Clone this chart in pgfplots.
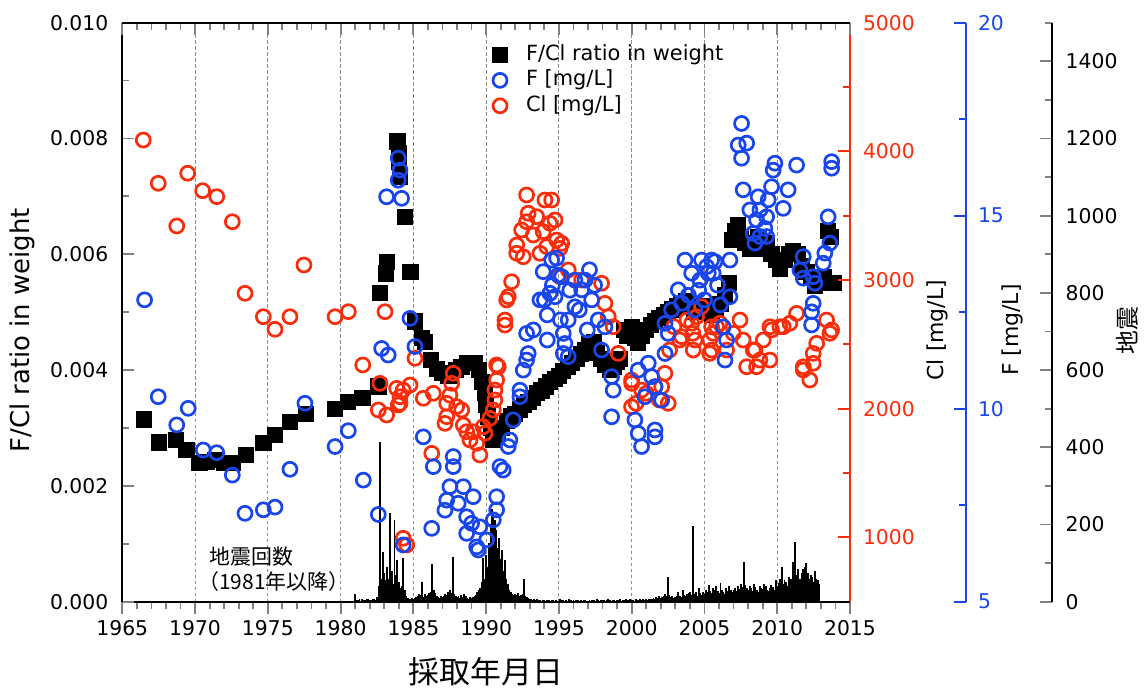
\documentclass[border=0pt]{standalone}
\usepackage{fontspec}
\setmainfont{DejaVu Sans}
\newfontfamily\jp{Noto Sans CJK JP}
\usepackage{pgfplots}
\pgfplotsset{compat=1.18}
\definecolor{clred}{RGB}{250,45,10}
\definecolor{fblue}{RGB}{25,70,235}
\definecolor{gridgray}{RGB}{140,140,140}

\pgfplotsset{
  frame/.style={scale only axis, width=363.85bp, height=289.5bp,
    xmin=1965, xmax=2015, at={(0,0)}, anchor=south west,
    /pgf/number format/1000 sep={}, /pgf/number format/assume math mode=true,
    tick label style={font=\fontsize{10.2}{12}\selectfont},
    major tick length=6bp, minor tick length=3.5bp,
    tick style={line width=0.9bp},
    axis line style={line width=1bp},
    label style={font=\fontsize{11}{13}\selectfont}},
  years/.style={xtick={1965,1970,1975,1980,1985,1990,1995,2000,2005,2010,2015}, minor x tick num=4},
}

\begin{document}
\begin{tikzpicture}
% bottom x axis, grid
\begin{axis}[frame, years, axis x line*=bottom, hide y axis, ymin=0, ymax=1,
  tick align=outside,
  xmajorgrids, major grid style={gridgray, dash pattern=on 1.6bp off 1.4bp, line width=0.5bp},
  xlabel={\jp 採取年月日},
  xlabel style={font=\fontsize{15.5}{18}\selectfont, at={(axis description cs:0.5,-0.1214)}, anchor=center}]
\addplot[draw=none] coordinates {(1965,0)};
\node[anchor=west, inner sep=0, font=\jp\fontsize{10.5}{12}\selectfont] at (axis description cs:0.119,0.0772) {地震回数};
\node[anchor=west, inner sep=0, font=\jp\fontsize{10.5}{12}\selectfont] at (axis description cs:0.104,0.0356) {（1981年以降）};
\end{axis}

% earthquake counts
\begin{axis}[frame, hide axis, ymin=0, ymax=1500]
\addplot[ycomb, black, line width=0.95bp, mark=none] table {
x y
1981.0 20
1981.1 5
1981.2 4
1981.3 6
1981.4 3
1981.5 8
1981.6 5
1981.7 4
1981.8 6
1981.9 7
1982.0 5
1982.1 4
1982.2 6
1982.3 8
1982.4 5
1982.5 12
1982.6 40
1982.7 414
1982.8 60
1982.9 130
1983.0 75
1983.1 55
1983.2 90
1983.3 60
1983.4 230
1983.5 80
1983.6 45
1983.7 212
1983.8 70
1983.9 108
1984.0 50
1984.1 35
1984.2 40
1984.3 113
1984.4 30
1984.5 15
1984.6 10
1984.7 8
1984.8 6
1984.9 10
1985.0 8
1985.1 10
1985.2 12
1985.3 15
1985.4 20
1985.5 18
1985.6 50
1985.7 12
1985.8 20
1985.9 15
1986.0 18
1986.1 22
1986.2 25
1986.3 98
1986.4 30
1986.5 22
1986.6 15
1986.7 12
1986.8 10
1986.9 14
1987.0 12
1987.1 15
1987.2 20
1987.3 18
1987.4 25
1987.5 30
1987.6 22
1987.7 117
1987.8 20
1987.9 15
1988.0 12
1988.1 15
1988.2 10
1988.3 18
1988.4 12
1988.5 20
1988.6 15
1988.7 10
1988.8 8
1988.9 12
1989.0 10
1989.1 12
1989.2 15
1989.3 18
1989.4 25
1989.5 30
1989.6 35
1989.7 50
1989.8 112
1989.9 60
1990.0 120
1990.1 90
1990.2 151
1990.3 200
1990.4 241
1990.5 228
1990.6 212
1990.7 186
1990.8 140
1990.9 164
1991.0 110
1991.1 134
1991.2 80
1991.3 109
1991.4 60
1991.5 47
1991.6 30
1991.7 25
1991.8 20
1991.9 18
1992.0 20
1992.1 18
1992.2 22
1992.3 15
1992.4 18
1992.5 20
1992.6 60
1992.7 15
1992.8 12
1992.9 10
1993.0 8
1993.1 6
1993.2 5
1993.3 7
1993.4 4
1993.5 6
1993.6 5
1993.7 4
1993.8 3
1993.9 5
1994.0 4
1994.1 3
1994.2 5
1994.3 4
1994.4 3
1994.5 4
1994.6 5
1994.7 3
1994.8 4
1994.9 3
1995.0 3
1995.1 8
1995.2 4
1995.3 5
1995.4 3
1995.5 4
1995.6 3
1995.7 6
1995.8 4
1995.9 3
1996.0 4
1996.1 3
1996.2 5
1996.3 4
1996.4 3
1996.5 4
1996.6 3
1996.7 5
1996.8 4
1996.9 3
1997.0 3
1997.1 4
1997.2 3
1997.3 5
1997.4 4
1997.5 3
1997.6 6
1997.7 4
1997.8 3
1997.9 4
1998.0 4
1998.1 5
1998.2 3
1998.3 4
1998.4 6
1998.5 4
1998.6 3
1998.7 5
1998.8 4
1998.9 3
1999.0 5
1999.1 4
1999.2 6
1999.3 3
1999.4 5
1999.5 4
1999.6 7
1999.7 5
1999.8 4
1999.9 6
2000.0 4
2000.1 5
2000.2 3
2000.3 6
2000.4 4
2000.5 5
2000.6 8
2000.7 4
2000.8 6
2000.9 5
2001.0 6
2001.1 5
2001.2 8
2001.3 6
2001.4 7
2001.5 10
2001.6 8
2001.7 12
2001.8 9
2001.9 15
2002.0 10
2002.1 12
2002.2 15
2002.3 20
2002.4 14
2002.5 65
2002.6 18
2002.7 12
2002.8 15
2002.9 10
2003.0 12
2003.1 15
2003.2 25
2003.3 14
2003.4 12
2003.5 30
2003.6 18
2003.7 15
2003.8 20
2003.9 22
2004.0 25
2004.1 18
2004.2 196
2004.3 20
2004.4 25
2004.5 15
2004.6 35
2004.7 22
2004.8 18
2004.9 25
2005.0 20
2005.1 30
2005.2 25
2005.3 43
2005.4 28
2005.5 22
2005.6 35
2005.7 30
2005.8 40
2005.9 28
2006.0 22
2006.1 49
2006.2 30
2006.3 25
2006.4 20
2006.5 35
2006.6 28
2006.7 40
2006.8 30
2006.9 25
2007.0 30
2007.1 35
2007.2 28
2007.3 40
2007.4 32
2007.5 45
2007.6 38
2007.7 104
2007.8 42
2007.9 35
2008.0 30
2008.1 40
2008.2 35
2008.3 28
2008.4 45
2008.5 38
2008.6 30
2008.7 25
2008.8 40
2008.9 35
2009.0 32
2009.1 45
2009.2 40
2009.3 30
2009.4 28
2009.5 35
2009.6 42
2009.7 38
2009.8 30
2009.9 55
2010.0 40
2010.1 48
2010.2 60
2010.3 89
2010.4 45
2010.5 55
2010.6 50
2010.7 40
2010.8 65
2010.9 60
2011.0 58
2011.1 104
2011.2 154
2011.3 70
2011.4 85
2011.5 58
2011.6 60
2011.7 75
2011.8 86
2011.9 90
2012.0 101
2012.1 75
2012.2 60
2012.3 70
2012.4 65
2012.5 52
2012.6 80
2012.7 60
2012.8 55
2012.9 45
};
\end{axis}

% F/Cl ratio, left axis
\begin{axis}[frame, axis y line*=left, hide x axis, ymin=0, ymax=0.010,
  ytick={0,0.002,0.004,0.006,0.008,0.010},
  yticklabels={0.000,0.002,0.004,0.006,0.008,0.010}, scaled y ticks=false,
  minor y tick num=1, tick align=inside,
  yticklabel style={xshift=-3.5bp},
  ylabel={F/Cl ratio in weight},
  ylabel style={font=\fontsize{13}{15}\selectfont, at={(axis description cs:-0.138,0.469)}, anchor=center},
  legend style={at={(axis description cs:0.5086,0.9661)}, anchor=north west, draw=none, fill=none,
    inner sep=0pt, outer sep=0pt, row sep=0.25bp, legend cell align=left,
    font=\fontsize{10.5}{12.5}\selectfont,
    nodes={inner sep=1bp, text height=8bp, text depth=2.5bp},
    /tikz/every odd column/.append style={column sep=8.2bp}},
  legend image code/.code={\draw[#1] plot coordinates {(0cm,0cm)};}]
\addplot[only marks, mark=square*, black, mark size=3.8bp] table {
x y
1966.5 0.00315
1967.5 0.00275
1968.7 0.00280
1969.4 0.00262
1970.3 0.00240
1970.8 0.00242
1971.4 0.00245
1972.0 0.00240
1972.6 0.00240
1973.5 0.00253
1974.7 0.00274
1975.5 0.00288
1976.5 0.00311
1977.6 0.00325
1979.6 0.00333
1980.5 0.00345
1981.5 0.00352
1982.6 0.00372
1982.7 0.00533
1983.1 0.00567
1983.2 0.00587
1983.9 0.00795
1984.0 0.00775
1984.0 0.00760
1984.1 0.00734
1984.4 0.00665
1984.8 0.00570
1985.1 0.00484
1985.6 0.00455
1985.8 0.00449
1986.2 0.00418
1986.6 0.00402
1987.0 0.00395
1987.4 0.00390
1987.9 0.00400
1988.3 0.00405
1988.7 0.00412
1989.2 0.00412
1989.5 0.00400
1989.7 0.00380
1989.9 0.00360
1990.0 0.00340
1990.1 0.00320
1990.3 0.00300
1990.5 0.00280
1990.8 0.00290
1991.1 0.00300
1991.4 0.00312
1991.7 0.00320
1992.0 0.00325
1992.3 0.00332
1992.6 0.00340
1992.9 0.00345
1993.2 0.00352
1993.5 0.00360
1993.8 0.00365
1994.1 0.00372
1994.4 0.00380
1994.7 0.00385
1995.0 0.00390
1995.3 0.00398
1995.6 0.00405
1995.9 0.00412
1996.2 0.00420
1996.5 0.00428
1996.8 0.00435
1997.1 0.00445
1997.4 0.00448
1997.6 0.00430
1997.9 0.00420
1998.2 0.00410
1998.5 0.00400
1998.8 0.00405
1999.0 0.00415
1999.2 0.00420
1999.5 0.00470
1999.7 0.00460
2000.0 0.00475
2000.2 0.00455
2000.4 0.00448
2000.7 0.00460
2001.0 0.00470
2001.3 0.00478
2001.6 0.00485
2001.9 0.00490
2002.2 0.00495
2002.5 0.00500
2002.8 0.00505
2003.1 0.00510
2003.4 0.00515
2003.7 0.00520
2004.0 0.00510
2004.3 0.00500
2004.6 0.00505
2004.9 0.00510
2005.2 0.00500
2005.5 0.00495
2005.8 0.00505
2006.1 0.00515
2006.4 0.00530
2006.7 0.00550
2006.9 0.00625
2007.1 0.00640
2007.3 0.00650
2007.5 0.00630
2007.8 0.00620
2008.1 0.00610
2008.4 0.00620
2008.7 0.00630
2009.0 0.00610
2009.3 0.00620
2009.6 0.00600
2009.9 0.00590
2010.2 0.00575
2010.5 0.00590
2010.8 0.00600
2011.1 0.00605
2011.4 0.00600
2011.7 0.00580
2012.0 0.00570
2012.3 0.00560
2012.6 0.00545
2012.9 0.00550
2013.2 0.00560
2013.5 0.00640
2013.7 0.00630
2013.9 0.00550
};
\addlegendentry{F/Cl ratio in weight}
\addlegendimage{only marks, mark=o, fblue, mark size=3.5bp, line width=1.35bp}
\addlegendentry{F [mg/L]}
\addlegendimage{only marks, mark=o, clred, mark size=3.5bp, line width=1.35bp}
\addlegendentry{Cl [mg/L]}
\end{axis}

% Cl, right axis
\begin{axis}[frame, axis y line*=right, hide x axis, ymin=500, ymax=5000,
  ytick={1000,2000,3000,4000,5000}, minor y tick num=1, tick align=inside,
  axis line style={clred}, tick style={clred},
  yticklabel style={clred, xshift=3bp},
  ylabel={Cl [mg/L]},
  ylabel style={at={(axis description cs:1.1195,0.469)}, anchor=center}]
\addplot[only marks, mark=o, clred, mark size=3.5bp, line width=1.35bp] table {
x y
1966.44 4088
1967.47 3752
1968.74 3420
1969.49 3830
1970.52 3694
1971.49 3648
1972.56 3453
1973.43 2897
1974.69 2715
1975.49 2617
1976.52 2715
1977.48 3117
1979.62 2715
1980.53 2754
1981.52 2340
1983.05 2754
1982.59 1990
1983.16 1951
1982.70 2197
1984.30 993
1984.54 941
1983.85 2158
1984.08 2093
1983.96 2029
1984.77 2184
1984.30 2145
1984.08 2042
1985.11 2392
1985.68 2081
1986.37 2120
1986.26 1653
1987.74 2275
1987.63 2197
1987.51 2106
1987.29 2042
1987.29 1938
1987.17 1886
1987.97 2016
1988.32 1990
1988.43 1873
1988.66 1821
1988.89 1757
1989.35 1731
1989.57 1640
1989.11 1821
1989.80 1860
1989.92 1809
1990.26 1925
1990.49 1990
1990.60 2068
1990.60 2145
1990.72 2223
1990.83 2326
1990.72 2340
1991.29 2689
1991.29 2650
1991.41 2845
1991.52 2871
1991.75 2987
1992.10 3272
1992.10 3208
1992.55 3181
1992.44 3389
1992.78 3453
1992.78 3661
1992.89 3519
1993.24 3350
1993.47 3492
1993.70 3208
1993.92 3376
1994.04 3622
1994.50 3622
1994.16 3259
1994.38 3441
1994.84 3311
1995.07 3246
1995.07 3026
1994.73 3467
1995.19 3285
1995.64 3078
1996.56 3000
1997.93 2975
1998.16 2819
1998.39 2715
1998.73 2637
1999.08 2430
1999.99 2223
1999.99 2015
2000.00 2197
2000.30 2042
2000.68 2145
2001.00 2120
2001.60 2171
2001.90 2068
2002.06 2171
2002.51 2042
2002.28 2275
2002.60 2456
2002.90 2637
2003.30 2534
2003.80 2689
2004.20 2586
2004.12 2664
2004.35 2534
2005.49 2637
2005.49 2456
2003.43 2560
2004.80 2793
2004.23 2456
2005.60 2586
2007.44 2689
2007.66 2534
2008.35 2456
2008.58 2326
2009.04 2534
2009.50 2637
2009.50 2378
2010.18 2637
2010.87 2664
2011.33 2741
2011.79 2326
2012.24 2223
2012.47 2430
2012.71 2508
2013.39 2689
2013.62 2586
2006.52 2456
2006.06 2664
2004.46 2715
2010.41 2637
2009.61 2612
2008.47 2456
2008.81 2378
2007.90 2326
2006.98 2586
2013.74 2612
2012.47 2353
2011.79 2301
2005.36 2534
2005.83 2637
2005.36 2430
};
\end{axis}

% F data
\begin{axis}[frame, hide axis, ymin=5, ymax=20]
\addplot[only marks, mark=o, fblue, mark size=3.5bp, line width=1.35bp] table {
x y
1966.53 12.82
1967.47 10.31
1968.74 9.58
1969.53 10.01
1970.56 8.93
1971.49 8.86
1972.56 8.28
1973.43 7.29
1974.69 7.38
1975.49 7.45
1976.52 8.43
1977.55 10.14
1979.62 9.02
1980.53 9.43
1981.56 8.15
1982.59 7.26
1982.82 11.56
1983.27 11.39
1983.16 15.49
1983.96 16.49
1984.08 16.18
1983.96 15.92
1984.19 15.45
1984.30 6.47
1984.77 12.34
1985.11 11.61
1985.68 9.27
1986.26 6.90
1986.37 8.50
1987.74 8.76
1987.74 8.50
1987.51 7.98
1987.29 7.63
1987.17 7.37
1988.43 7.98
1988.08 7.55
1988.66 7.20
1989.11 7.72
1988.66 6.77
1989.00 7.03
1989.57 6.94
1989.35 6.42
1989.46 6.34
1990.03 6.60
1990.72 7.72
1990.72 7.38
1990.49 7.12
1990.95 8.50
1991.17 8.41
1991.63 9.19
1991.52 9.02
1991.86 9.71
1992.32 10.31
1992.32 10.48
1992.55 11.00
1992.78 11.26
1992.89 11.43
1993.24 12.04
1992.78 11.95
1993.70 12.82
1994.38 12.99
1993.92 13.55
1994.50 13.85
1994.95 13.46
1995.30 11.95
1995.30 11.43
1994.84 13.90
1995.19 13.42
1994.73 12.90
1994.00 12.82
1994.20 12.43
1994.55 13.20
1995.75 13.07
1996.10 13.33
1997.10 13.60
1997.45 13.20
1996.40 12.56
1996.95 12.04
1995.10 12.30
1994.20 11.78
1996.79 13.33
1996.56 13.08
1997.25 12.82
1996.10 12.64
1995.64 12.30
1995.41 11.69
1995.64 11.35
1997.70 12.30
1998.16 12.12
1997.93 11.52
1998.62 10.83
1998.73 10.48
1998.62 9.79
2000.45 11.00
2001.14 11.18
2001.37 10.83
2000.91 10.31
2001.60 10.57
2002.06 10.22
2000.22 9.71
2000.45 9.36
2000.68 9.02
2001.60 9.45
2001.60 9.27
2002.29 11.43
2002.51 11.95
2002.29 12.21
2002.74 12.56
2003.43 12.73
2003.20 13.08
2003.66 13.85
2004.12 13.51
2004.80 13.85
2005.49 13.85
2004.35 12.56
2005.26 13.51
2005.72 13.81
2006.75 13.85
2005.15 13.68
2005.60 13.51
2004.69 13.33
2003.90 12.94
2004.60 13.07
2005.00 12.82
2005.90 13.20
2006.10 12.69
2006.75 12.90
2006.29 12.12
2006.52 11.78
2006.41 11.26
2007.55 17.39
2007.32 16.83
2007.90 16.88
2007.55 16.49
2007.66 15.67
2009.84 16.36
2009.72 16.18
2011.33 16.31
2009.61 15.75
2010.75 15.67
2008.69 15.49
2009.38 15.41
2010.41 15.19
2008.12 15.15
2008.81 15.15
2009.27 14.97
2008.58 14.89
2009.15 14.67
2008.35 14.54
2008.81 14.46
2008.47 14.29
2009.27 14.46
2013.74 16.40
2013.74 16.23
2013.50 14.97
2013.62 14.29
2013.27 14.03
2013.16 13.77
2011.79 13.94
2011.56 13.59
2011.79 13.38
2012.47 13.42
2012.59 13.25
2012.47 12.73
2012.36 12.51
2012.36 12.17
};
\end{axis}

% top x axis
\begin{axis}[frame, years, axis x line*=top, hide y axis, ymin=0, ymax=1,
  tick align=inside, xticklabels={}]
\addplot[draw=none] coordinates {(1965,0)};
\end{axis}

% F scale
\begin{axis}[frame, at={(58bp,0)}, axis y line*=right, hide x axis, ymin=5, ymax=20,
  ytick={5,10,15,20}, minor y tick num=1, tick align=inside,
  axis line style={fblue}, tick style={fblue},
  yticklabel style={fblue, xshift=2.5bp},
  ylabel={F [mg/L]},
  ylabel style={at={(axis description cs:1.0632,0.469)}, anchor=center}]
\addplot[draw=none] coordinates {(1990,10)};
\end{axis}

% earthquake scale
\begin{axis}[frame, at={(100.85bp,0)}, axis y line*=right, hide x axis, ymin=0, ymax=1500,
  ytick={0,200,400,600,800,1000,1200,1400}, minor ytick={100,300,500,700,900,1100,1300,1500},
  tick align=inside,
  yticklabel style={xshift=3.5bp},
  ylabel={\jp 地震},
  ylabel style={font=\fontsize{12}{14}\selectfont, at={(axis description cs:1.1035,0.469)}, anchor=center}]
\addplot[draw=none] coordinates {(1990,100)};
\end{axis}

\pgfresetboundingbox
\path[use as bounding box] (-61.15bp,-43.65bp) rectangle (512.85bp,300.85bp);
\end{tikzpicture}
\end{document}
